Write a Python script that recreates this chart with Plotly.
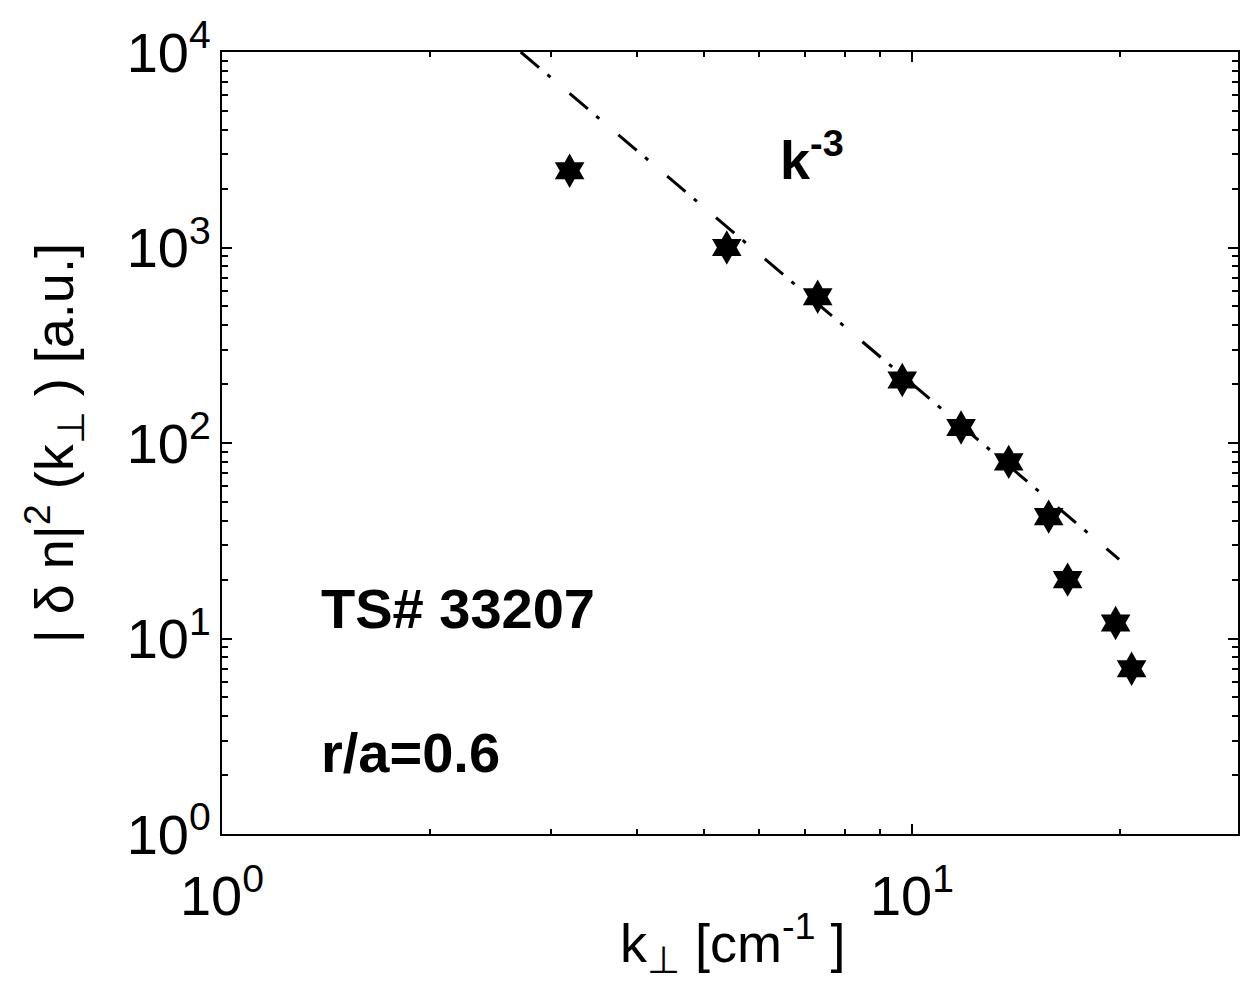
import plotly.graph_objects as go

# Measured turbulence spectrum |dn|^2 versus k_perp
k_perp = [3.19, 5.39, 7.30, 9.68, 11.78, 13.81, 15.78, 16.81, 19.73, 20.81]
dn2 = [2470, 1000, 560, 210, 120, 80, 42, 20, 12, 7]

# k^-3 reference line (end points)
fit_k = [2.71, 19.96]
fit_dn2 = [10000, 25.4]

# Axis decades and labels
x_decades = [0, 1]
y_decades = [0, 1, 2, 3, 4]

FONT = "Liberation Sans"
TICK_SIZE = 56
TEXT_SIZE = 56


def power_labels(exps):
    return [f"10<sup>{e}</sup>" for e in exps]


def minor_vals(exps):
    vals = []
    for e in exps:
        for d in range(2, 10):
            vals.append(d * 10 ** e)
    return vals


fig = go.Figure()

fig.add_trace(go.Scatter(
    x=fit_k, y=fit_dn2, mode="lines",
    line=dict(color="black", width=3, dash="24px,11px,4px,25px"),
    showlegend=False, hoverinfo="skip",
))

fig.add_trace(go.Scatter(
    x=k_perp, y=dn2, mode="markers",
    marker=dict(symbol="hexagram", size=26, color="black",
                line=dict(width=0)),
    showlegend=False,
))

axis_common = dict(
    showline=True, linecolor="black", linewidth=2,
    mirror="ticks", ticks="inside", tickcolor="black",
    tickwidth=2, ticklen=10, showgrid=False, zeroline=False,
    tickfont=dict(family=FONT, size=TICK_SIZE, color="black"),
)

fig.update_xaxes(
    type="log", range=[0, 1.4725],
    tickmode="array",
    tickvals=[10 ** e for e in x_decades],
    ticktext=power_labels(x_decades),
    minor=dict(tickmode="array", tickvals=minor_vals([0, 1]),
               ticks="inside", ticklen=5, tickwidth=2,
               tickcolor="black", showgrid=False),
    ticklabelstandoff=12,
    **axis_common,
)

fig.update_yaxes(
    type="log", range=[0, 4],
    tickmode="array",
    tickvals=[10 ** e for e in y_decades],
    ticktext=power_labels(y_decades),
    minor=dict(tickmode="array", tickvals=minor_vals([0, 1, 2, 3]),
               ticks="inside", ticklen=6, tickwidth=2,
               tickcolor="black", showgrid=False),
    ticklabelstandoff=-2,
    **axis_common,
)

annotations = [
    dict(text="<b>k<sup>-3</sup></b>", x=0.806, y=3.47, xref="x", yref="y",
         xanchor="left", yanchor="middle", showarrow=False,
         font=dict(family=FONT, size=54, color="black")),
    dict(text="<b>TS# 33207</b>", x=0.14, y=1.151, xref="x", yref="y",
         xanchor="left", yanchor="middle", showarrow=False,
         font=dict(family=FONT, size=TEXT_SIZE, color="black")),
    dict(text="<b>r/a=0.6</b>", x=0.14, y=0.419, xref="x", yref="y",
         xanchor="left", yanchor="middle", showarrow=False,
         font=dict(family=FONT, size=TEXT_SIZE, color="black")),
    dict(text="| δ n|<sup>2</sup> (k<sub>⊥</sub> ) [a.u.]",
         x=-0.165, y=0.5, xref="paper", yref="paper", textangle=-90,
         xanchor="center", yanchor="middle", showarrow=False,
         font=dict(family=FONT, size=54, color="black")),
    dict(text="k<sub>⊥</sub> [cm<sup>-1</sup> ]",
         x=0.503, y=-0.14, xref="paper", yref="paper",
         xanchor="center", yanchor="middle", showarrow=False,
         font=dict(family=FONT, size=54, color="black")),
]

fig.update_layout(
    width=1240, height=987,
    margin=dict(l=222, r=0, t=52, b=153),
    paper_bgcolor="white", plot_bgcolor="white",
    annotations=annotations,
    font=dict(family=FONT, color="black"),
)

fig.write_html("out.html")
